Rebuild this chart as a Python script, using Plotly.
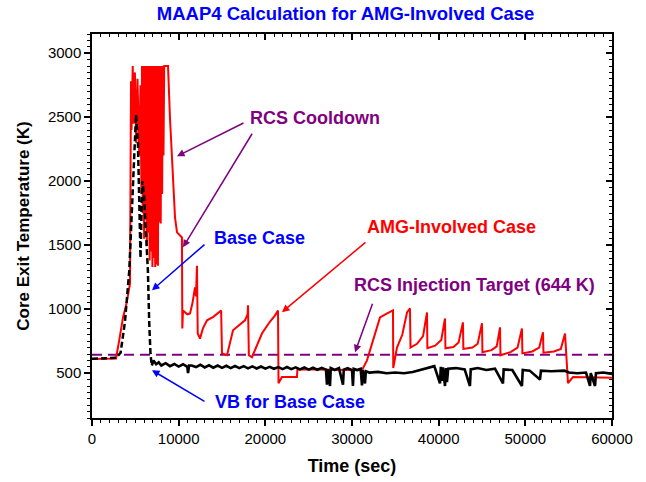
import plotly.graph_objects as go

# ---------------- data ----------------
target_T = 644  # RCS injection target (K)

# AMG-Involved Case (red)
amg_t = [0, 1000, 2000, 2770, 3200, 3580, 4000, 4385,
         4500, 4560, 4700, 4800, 4950, 5100, 5250, 5450, 5600, 5700,
         5770, 5850, 5930, 6010, 6090, 6170, 6250, 6330, 6410, 6490, 6570, 6650, 6730, 6810,
         6890, 6970, 7050, 7130, 7210, 7290, 7370, 7450, 7530, 7610, 7690, 7770, 7850, 7930,
         8010, 8090, 8170, 8250, 8330, 8770,
         9000, 9230, 9350, 9580, 9810, 10150, 10380, 10420, 10500, 11000, 11310, 11600,
         11880, 12000, 12110, 12200, 12460, 12800, 13270, 14000, 14420, 14900, 15000,
         15580, 16270, 17000, 17650, 17950, 18000, 18100, 18460, 19610, 20500, 21100,
         21460, 21520, 21920, 23650, 23700, 26000, 28500, 31150,
         31730, 32500, 33230, 34000, 34380, 34730, 34760, 35190, 35800, 36350, 36690,
         36750, 37500, 38200, 38650, 38700, 39600, 40300, 40730, 40780, 41700, 42300,
         42800, 42850, 43900, 44500, 45000, 45050, 46100, 46700, 47080, 47130, 48300,
         49100, 49610, 49660, 50800, 51600, 52040, 52090, 53300, 54100, 54580, 54810,
         54920, 55500, 60000]
amg_T = [610, 612, 616, 615, 780, 936, 1050, 1200,
         2780, 2400, 2900, 2450, 2850, 2300, 2800, 2200, 2750, 1900,
         2900, 1750, 2900, 1550, 2900, 1700, 2900, 1500, 2900, 1600, 2900, 1380, 2900, 1450,
         2900, 1330, 2900, 1400, 2900, 1330, 2900, 1350, 2900, 1340, 2900, 1680, 2900, 1670,
         2900, 1900, 2900, 2200, 2900, 2900,
         2490, 2180, 1925, 1715, 1600, 1575, 1560, 850, 990, 960, 967, 1050,
         1170, 1100, 1340, 810, 770, 850, 913, 940, 967, 990, 655,
         640, 835, 880, 913, 960, 1030, 640, 625, 810, 900, 950,
         990, 422, 470, 470, 530, 528, 525, 523,
         600, 780, 936, 965, 975, 990, 540, 700, 800, 975, 1006,
         700, 730, 790, 975, 695, 715, 760, 928, 695, 705, 740,
         897, 690, 700, 730, 890, 663, 680, 710, 858, 640, 665,
         700, 850, 655, 670, 700, 820, 660, 670, 690, 810, 600,
         422, 470, 465]

# Base Case (black) - early transient, dashed
base_early_t = [0, 1500, 2770, 3300, 3800, 4300, 4700, 5080, 5300, 5500, 5600, 5700,
                5800, 6000, 6150, 6300, 6450, 6600, 6750, 6900]
base_early_T = [612, 614, 620, 660, 900, 1300, 1900, 2520, 2300, 1800, 1400, 1700,
                2000, 1900, 1700, 1600, 1300, 900, 650, 560]

# Base Case (black) - after vessel breach
base_late_t = [6900, 7100, 7400, 7700, 8000, 8500, 9000, 9500, 10000, 10500, 11000, 11080,
               11200, 11500, 12000, 12500, 13000, 13500, 14000, 14500, 15000, 15500, 16000,
               16500, 17000, 17500, 18000, 18500, 19000, 19500, 20000, 20500, 21000, 21500,
               22000, 22500, 23000, 23500, 24000, 24500, 25000, 25500, 26000, 26500, 27000,
               27110, 27200, 27460, 27550, 28000, 28500, 28960, 29050, 29500, 30000, 30110,
               30200, 30600, 31000, 31150, 31250, 31500, 31600, 32000, 33000, 34000, 35000,
               36000, 37000, 38000, 38800, 39500, 40150, 40250, 40380, 40500, 40730, 40850,
               40960, 41100, 42000, 43000, 43610, 43700, 44500, 45500, 46500, 47420, 47500,
               48500, 49610, 49700, 50500, 51690, 51800, 53000, 54500, 55000, 56000, 57000,
               57460, 57550, 58040, 58150, 59000, 60000]
base_late_T = [560, 600, 570, 585, 560, 578, 555, 572, 552, 570, 550, 500,
               560, 560, 548, 566, 545, 562, 543, 560, 542, 558, 540,
               556, 540, 555, 538, 553, 537, 552, 536, 550, 535, 548,
               532, 548, 532, 546, 530, 545, 528, 543, 527, 542, 528,
               410, 530, 400, 540, 525, 540, 410, 528, 540, 525, 400,
               535, 525, 535, 405, 525, 420, 515, 505, 510, 500, 505,
               500, 510, 530, 545, 555, 420, 550, 440, 545, 400, 540,
               430, 535, 540, 530, 400, 530, 540, 525, 535, 420, 530,
               525, 400, 525, 520, 450, 520, 515, 520, 505, 500, 505,
               400, 500, 400, 500, 505, 495]

x_range = [0, 60000]
y_range = [150, 3150]
x_dtick, x_minor = 10000, 1000
y_dtick, y_minor = 500, 50

FONT = "Liberation Sans, Arial, sans-serif"
RED, BLUE, PURPLE = "#FF0000", "#0000FF", "#800080"

fig = go.Figure()
fig.add_trace(go.Scatter(x=x_range, y=[target_T, target_T], mode="lines",
                         line=dict(color=PURPLE, width=2, dash="10px,6px"), hoverinfo="skip"))
fig.add_trace(go.Scatter(x=amg_t, y=amg_T, mode="lines",
                         line=dict(color=RED, width=2)))
fig.add_trace(go.Scatter(x=base_early_t, y=base_early_T, mode="lines",
                         line=dict(color="black", width=2.5, dash="6px,3px")))
fig.add_trace(go.Scatter(x=base_late_t, y=base_late_T, mode="lines",
                         line=dict(color="black", width=2.6)))
# invisible helper trace so the mirrored (top/right) tick axes are drawn
fig.add_trace(go.Scatter(x=x_range, y=y_range, xaxis="x2", yaxis="y2", mode="markers",
                         marker=dict(opacity=0), hoverinfo="skip"))


def ax_style(ticks, minor_len, major_len=6, **kw):
    d = dict(showgrid=False, zeroline=False, ticks=ticks, ticklen=major_len,
             tickwidth=1.5, tickcolor="black", tickformat="d",
             minor=dict(ticks=ticks, ticklen=minor_len, tickwidth=1, tickcolor="black"))
    d.update(kw)
    return d


xa = ax_style("outside", 3, range=x_range, dtick=x_dtick, tick0=0,
              showline=True, mirror=True, linecolor="black", linewidth=1.5,
              tickfont=dict(size=15, family=FONT, color="black"),
              title=dict(text="<b>Time (sec)</b>",
                         font=dict(size=18, family=FONT, color="black"), standoff=14))
xa["minor"]["dtick"] = x_minor
ya = ax_style("outside", 3, range=y_range, dtick=y_dtick, tick0=0,
              showline=True, mirror=True, linecolor="black", linewidth=1.5,
              tickfont=dict(size=15, family=FONT, color="black"),
              title=dict(text="<b>Core Exit Temperature (K)</b>",
                         font=dict(size=17, family=FONT, color="black"), standoff=14))
ya["minor"]["dtick"] = y_minor
xa2 = ax_style("inside", 3, range=x_range, dtick=x_dtick, tick0=0, overlaying="x",
               side="top", anchor="y", showticklabels=False, showline=False)
xa2["minor"]["dtick"] = x_minor
ya2 = ax_style("inside", 3, range=y_range, dtick=y_dtick, tick0=0, overlaying="y",
               side="right", anchor="x", showticklabels=False, showline=False)
ya2["minor"]["dtick"] = y_minor

fig.update_layout(
    template="none",
    width=646, height=482,
    margin=dict(l=92, r=34, t=34, b=64),
    paper_bgcolor="white", plot_bgcolor="white",
    showlegend=False,
    font=dict(family=FONT, color="black"),
    title=dict(text="<b>MAAP4 Calculation for AMG-Involved Case</b>",
               font=dict(size=18.5, color=BLUE, family=FONT),
               x=0.535, xanchor="center", y=0.972, yanchor="middle"),
    xaxis=xa, yaxis=ya, xaxis2=xa2, yaxis2=ya2,
)

# text labels
labels = [
    ("RCS Cooldown", 18000, 2492, PURPLE),
    ("Base Case", 13850, 1555, BLUE),
    ("AMG-Involved Case", 31500, 1640, RED),
    ("RCS Injection Target (644 K)", 30000, 1187, PURPLE),
    ("VB for Base Case", 13960, 273, BLUE),
]
for txt, tx, ty, col in labels:
    fig.add_annotation(x=tx, y=ty, text=f"<b>{txt}</b>", showarrow=False,
                       xanchor="left", yanchor="middle",
                       font=dict(size=18, color=col, family=FONT))

# arrows: head (data coords), tail offset in pixels
arrows = [
    (9810, 2195, 68, -34, PURPLE),
    (10500, 1484, 70, -115, PURPLE),
    (6920, 1148, 54, -47, BLUE),
    (21920, 977, 85, -71, RED),
    (30350, 664, 18, -50, PURPLE),
    (6920, 523, 54, 32, BLUE),
]
for hx, hy, ax, ay, col in arrows:
    fig.add_annotation(x=hx, y=hy, ax=ax, ay=ay, text="", showarrow=True,
                       arrowhead=2, arrowsize=1, arrowwidth=1.5, arrowcolor=col,
                       standoff=0, startstandoff=0)

fig.write_html("out.html")
